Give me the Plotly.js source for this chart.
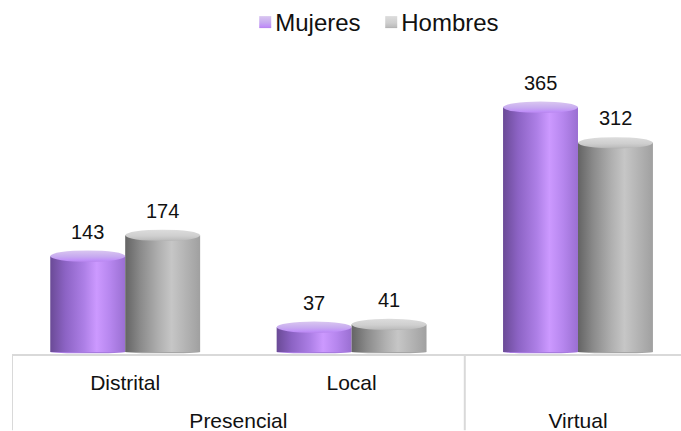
<!DOCTYPE html>
<html><head><meta charset="utf-8">
<script src="https://cdn.plot.ly/plotly-3.0.1.min.js"></script>
<style>html,body{margin:0;padding:0;background:#fff;overflow:hidden}</style>
</head><body><div id="c" style="width:681px;height:431px"></div>
<script>
const groups = ["Presencial","Presencial","Virtual"];
const categories = ["Distrital","Local"," "];
const mujeres = [143,37,365];
const hombres = [174,41,312];

const FONT = '"Liberation Sans", Arial, sans-serif';
const barW = 0.331;
const capH = 8.5, baseH = 2;
const xs = [-barW/2, barW/2];
const series = [{name:"Mujeres",v:mujeres,c:"#a87be0",g:"purple"},{name:"Hombres",v:hombres,c:"#a6a6a6",g:"gray"}];

const traces = series.map(s => ({
  type:"bar", name:s.name, x:[groups,categories], y:s.v, width:barW,
  marker:{color:s.c,line:{width:0}}, hoverinfo:"skip", cliponaxis:false
}));

const shapes = [], annotations = [];
series.forEach((s,si) => s.v.forEach((v,i) => {
  const x0 = i+xs[si]-barW/2, x1 = i+xs[si]+barW/2;
  shapes.push({type:"circle",layer:"below",xref:"x",yref:"y",x0,x1,y0:-baseH,y1:baseH,fillcolor:s.c,line:{width:0},name:s.g+"-base"});
  shapes.push({type:"circle",layer:"above",xref:"x",yref:"y",x0,x1,y0:v-capH,y1:v+capH,fillcolor:s.c,line:{width:0},name:s.g+"-cap"});
  annotations.push({xref:"x",yref:"y",x:i+xs[si],y:v,text:String(v),showarrow:false,yanchor:"bottom",yshift:11.5,
    font:{family:FONT,size:20,color:"#111"}});
}));
[-0.5,1.5].forEach(x => shapes.push({type:"line",layer:"above",xref:"x",yref:"paper",x0:x,x1:x,y0:0,y1:-0.25,
  line:{color:"#d9d9d9",width:2},name:"divider"}));

const layout = {
  width:681,height:431,margin:{l:12,r:0,t:40,b:77},
  paper_bgcolor:"#fff",plot_bgcolor:"#fff",
  font:{family:FONT,size:20,color:"#111"},
  barmode:"group",bargap:0.338,bargroupgap:0,
  showlegend:true,
  legend:{orientation:"h",x:0.522,xanchor:"center",y:1.014,yanchor:"bottom",font:{family:FONT,size:24,color:"#111"},
          traceorder:"normal",entrywidth:81,entrywidthmode:"pixels"},
  xaxis:{type:"multicategory",range:[-0.5,2.455],showline:true,linecolor:"#d9d9d9",linewidth:2,
         showgrid:false,ticks:"",showdividers:false,ticklabelstandoff:9,
         tickfont:{family:FONT,size:21,color:"#111"},fixedrange:true},
  yaxis:{range:[-3,452],visible:false,fixedrange:true,zeroline:false},
  shapes,annotations
};

const stops = {
  purple:[[0,"#6a4a96"],[.2,"#8c63c4"],[.45,"#ad7fe6"],[.62,"#cc99ff"],[.8,"#b686ee"],[1,"#9a6fd2"]],
  gray:[[0,"#646464"],[.2,"#8a8a8a"],[.45,"#b0b0b0"],[.62,"#c6c6c6"],[.8,"#b4b4b4"],[1,"#a0a0a0"]]
};
const capStops = {
  purple:[[0,"#d9c6f0"],[.55,"#c7aaf0"],[.85,"#c090f8"],[1,"#b684ec"]],
  gray:[[0,"#dcdcdc"],[.55,"#cfcfcf"],[.85,"#c0c0c0"],[1,"#b0b0b0"]]
};
function grad(defs,id,st,vertical){
  const NS="http://www.w3.org/2000/svg";
  const g=document.createElementNS(NS,"linearGradient");
  g.setAttribute("id",id);g.setAttribute("x1","0");g.setAttribute("y1","0");
  g.setAttribute("x2",vertical?"0":"1");g.setAttribute("y2",vertical?"1":"0");
  st.forEach(([o,c])=>{const s=document.createElementNS(NS,"stop");s.setAttribute("offset",o);s.setAttribute("stop-color",c);g.appendChild(s);});
  defs.appendChild(g);
}
Plotly.newPlot("c",traces,layout,{staticPlot:true}).then(gd=>{
  const svg=gd.querySelector("svg.main-svg");
  const defs=document.createElementNS("http://www.w3.org/2000/svg","defs");
  svg.insertBefore(defs,svg.firstChild);
  ["purple","gray"].forEach(k=>{grad(defs,"bar-"+k,stops[k],false);grad(defs,"cap-"+k,capStops[k],true);});
  const names=["purple","gray"];
  gd.querySelectorAll(".barlayer .trace").forEach((t,i)=>{
    t.querySelectorAll("path").forEach(p=>p.style.fill="url(#bar-"+names[i]+")");
  });
  gd.querySelectorAll(".legend .traces").forEach((t,i)=>{
    const p=t.querySelector(".legendsymbols path"); if(p) p.style.fill="url(#cap-"+names[i]+")";
    const g=t.querySelector(".legendsymbols"); if(g) g.setAttribute("transform","translate(10,0)");
    const txt=t.querySelector(".legendtext"); if(txt) txt.removeAttribute("clip-path");
    t.removeAttribute("clip-path");
    t.querySelectorAll("[clip-path]").forEach(e=>e.removeAttribute("clip-path"));
    t.querySelectorAll("[style*='clip-path']").forEach(e=>e.style.clipPath="none");
  });
  const sb=gd.querySelector(".legend .scrollbox"); if(sb){sb.removeAttribute("clip-path");sb.style.clipPath="none";}
  const leg=gd.querySelector(".legend"); if(leg){leg.removeAttribute("clip-path");leg.style.clipPath="none";}
  const sh=gd.layout.shapes;
  const below=sh.filter(s=>s.layer==="below"), above=sh.filter(s=>s.layer==="above");
  gd.querySelectorAll(".layer-above .shapelayer path").forEach((p,i)=>{
    const nm=above[i].name; if(!nm.endsWith("-cap")) return;
    p.style.fill="url(#cap-"+nm.split("-")[0]+")";p.style.fillOpacity=1;});
  gd.querySelectorAll(".layer-below .shapelayer path").forEach((p,i)=>{
    p.style.fill="url(#bar-"+below[i].name.split("-")[0]+")";p.style.fillOpacity=1;});
  gd.querySelectorAll(".xaxislayer-above .xtick2").forEach(g=>g.setAttribute("transform","translate(0,22)"));
});
</script></body></html>
